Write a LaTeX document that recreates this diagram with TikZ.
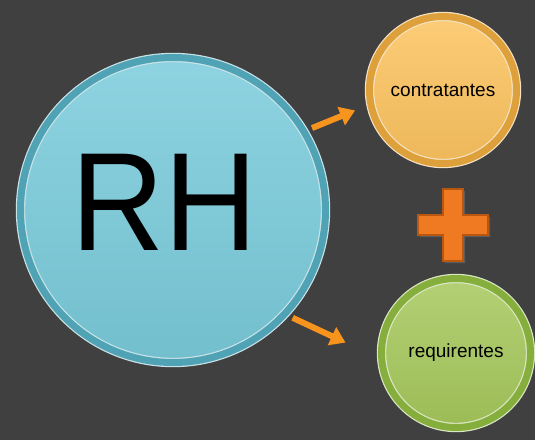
\documentclass[tikz,border=0pt]{standalone}
\usepackage{fontspec}
\setmainfont{Liberation Sans}
\usetikzlibrary{arrows.meta,shadows}

\definecolor{slide}{HTML}{404040}
\definecolor{rhface}{HTML}{7ACBDB}
\definecolor{rhrim}{HTML}{4FA3B4}
\definecolor{conface}{HTML}{FCC35F}
\definecolor{conrim}{HTML}{DDA03A}
\definecolor{reqface}{HTML}{A6C85C}
\definecolor{reqrim}{HTML}{86AE3C}
\definecolor{flowor}{HTML}{F7941E}
\definecolor{plusor}{HTML}{F07A22}
\definecolor{plusedge}{HTML}{B9560F}

\tikzset{
  bubble/.style={circle, inner sep=0pt, outer sep=0pt,
    top color=#1face!85!white, bottom color=#1face!94!black,
    draw=white!70!#1rim, double=#1rim, double distance=7pt, line width=1.2pt,
    drop shadow={shadow xshift=3pt, shadow yshift=-3pt, opacity=0.45}},
  flow/.style={draw=flowor, line width=6pt, -{Triangle[length=15pt,width=19pt]}},
  plusmark/.style={fill=plusor, draw=plusedge, line width=1.2pt,
    drop shadow={shadow xshift=2pt, shadow yshift=-2pt, opacity=0.45}}
}

\begin{document}
\begin{tikzpicture}[x=10pt, y=10pt, every node/.style={text=black}]
        \useasboundingbox (0,0) rectangle (53.5,44);
        \fill[slide] (0,0) rectangle (53.5,44);

        \coordinate (plus) at (45.3,21.5);

        \node[bubble=rh, minimum size=305pt,
              label={[font=\fontsize{140}{140}\selectfont, xshift=-8pt, yshift=8pt]center:\scalebox{0.92}[1]{RH}}] (rh) at (17.3,23.0) {};
        \node[bubble=con, minimum size=147pt, font=\fontsize{19}{22}\selectfont] (con) at (44.3,35.0) {contratantes};
        \node[bubble=req, minimum size=149pt, font=\fontsize{19}{22}\selectfont] (req) at (45.6,8.7) {requirentes};

        \draw[flow, shorten <=9pt, shorten >=17pt] (rh.31) -- (con.191);
        \draw[flow, shorten <=9pt, shorten >=40pt] (rh.-43) -- (req.185);

        \draw[plusmark] (plus) ++(-1,3.6) -- ++(2,0) -- ++(0,-2.6) -- ++(2.5,0) -- ++(0,-2)
            -- ++(-2.5,0) -- ++(0,-2.6) -- ++(-2,0) -- ++(0,2.6) -- ++(-2.5,0)
            -- ++(0,2) -- ++(2.5,0) -- cycle;
\end{tikzpicture}
\end{document}
